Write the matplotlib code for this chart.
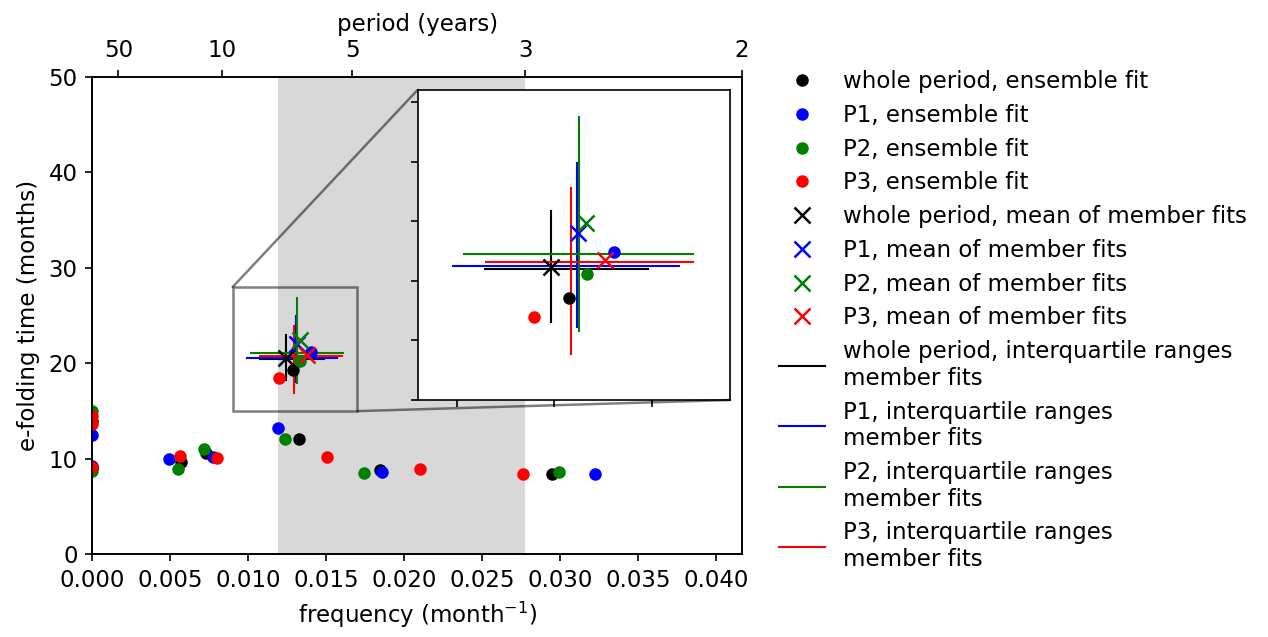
import numpy as np
import matplotlib
matplotlib.use("Agg")
import matplotlib.pyplot as plt
from matplotlib.patches import ConnectionPatch

plt.rcParams["font.size"] = 11

# ensemble fits (frequency in 1/month, e-folding time in months)
labels = ["whole period", "P1", "P2", "P3"]
colors = ["k", "b", "g", "r"]

freq_ens = [
    [0.0, 0.0, 0.00568, 0.00729, 0.01288, 0.01323, 0.01842, 0.02951],
    [0.0, 0.0, 0.00492, 0.00774, 0.01188, 0.01404, 0.01859, 0.03226],
    [0.0, 0.0, 0.00549, 0.00714, 0.01237, 0.01333, 0.01744, 0.02996],
    [0.0, 0.0, 0.0, 0.00564, 0.00799, 0.01197, 0.01502, 0.02101, 0.02765],
]
tau_ens = [
    [14.0, 9.0, 9.70, 10.6, 19.29, 12.04, 8.83, 8.41],
    [12.5, 9.3, 9.95, 10.15, 13.25, 21.19, 8.65, 8.44],
    [15.0, 8.7, 8.93, 11.06, 12.07, 20.28, 8.56, 8.58],
    [14.5, 13.6, 9.1, 10.32, 10.05, 18.47, 10.22, 8.93, 8.44],
]

# mean of member fits
freq_mean = [0.01241, 0.01312, 0.01331, 0.01379]
tau_mean = [20.56, 22.02, 22.44, 20.87]

# medians and interquartile ranges of member fits
freq_med = [0.01241, 0.01309, 0.01313, 0.01292]
tau_med = [20.51, 20.60, 21.11, 20.79]
freq_q1 = [0.01073, 0.00990, 0.01018, 0.01076]
freq_q3 = [0.01489, 0.01569, 0.01605, 0.01604]
tau_q1 = [18.26, 18.05, 17.91, 16.93]
tau_q3 = [22.93, 24.95, 26.88, 23.88]

period_ticks = [50, 10, 5, 3, 2]
zoom_x = (0.009, 0.017)
zoom_y = (15, 28)


def draw(ax, with_labels):
    for i in range(4):
        ax.plot([freq_q1[i], freq_q3[i]], [tau_med[i], tau_med[i]], color=colors[i], lw=1, zorder=2,
                label=(labels[i] + ", interquartile ranges\nmember fits") if with_labels else None)
        ax.plot([freq_med[i], freq_med[i]], [tau_q1[i], tau_q3[i]], color=colors[i], lw=1, zorder=2)
    for i in range(4):
        ax.plot(freq_ens[i], tau_ens[i], "o", color=colors[i], ms=5, zorder=3,
                label=(labels[i] + ", ensemble fit") if with_labels else None)
    for i in range(4):
        ax.plot(freq_mean[i], tau_mean[i], "x", color=colors[i], ms=8, mew=1.2, zorder=4,
                label=(labels[i] + ", mean of member fits") if with_labels else None)


fig = plt.figure(figsize=(1268 / 150, 637 / 150), dpi=150)
ax = fig.add_axes([0.0728, 0.1298, 0.5124, 0.7493])

ax.axvspan(1 / 84, 1 / 36, color="grey", alpha=0.3, lw=0, zorder=0)
draw(ax, True)
ax.set_xlim(0, 1 / 24)
ax.set_ylim(0, 50)
ax.set_xlabel("frequency (month$^{-1}$)")
ax.set_ylabel("e-folding time (months)")

# top axis with period in years
ax2 = ax.twiny()
ax2.set_xlim(ax.get_xlim())
ax2.set_xticks([1 / (12 * p) for p in period_ticks])
ax2.set_xticklabels([str(p) for p in period_ticks])
ax2.set_xlabel("period (years)")

# zoomed inset
axins = fig.add_axes([417.5 / 1268, 1 - 400 / 637, 312.5 / 1268, 310 / 637])
draw(axins, False)
axins.set_xlim(*zoom_x)
axins.set_ylim(*zoom_y)
axins.set_xticks([0.010, 0.0125, 0.015])
axins.set_yticks([15, 17.5, 20, 22.5, 25, 27.5])
axins.set_xticklabels([])
axins.set_yticklabels([])

# rectangle + two connector lines
ax.indicate_inset([zoom_x[0], zoom_y[0], zoom_x[1] - zoom_x[0], zoom_y[1] - zoom_y[0]],
                  edgecolor="black", alpha=0.5, lw=1.2)
for xy_data, xy_ins in [((zoom_x[0], zoom_y[1]), (0, 1)), ((zoom_x[1], zoom_y[0]), (1, 0))]:
    con = ConnectionPatch(xyA=xy_data, coordsA=ax.transData, xyB=xy_ins, coordsB=axins.transAxes,
                          color="black", alpha=0.5, lw=1.2)
    fig.add_artist(con)

# legend ordering: dots, crosses, lines
h, l = ax.get_legend_handles_labels()
order = [4, 5, 6, 7, 8, 9, 10, 11, 0, 1, 2, 3]
ax.legend([h[k] for k in order], [l[k] for k in order], loc="center left",
          bbox_to_anchor=(1.025, 0.49), frameon=False, labelspacing=0.47)

plt.savefig("out.png", dpi=150)
